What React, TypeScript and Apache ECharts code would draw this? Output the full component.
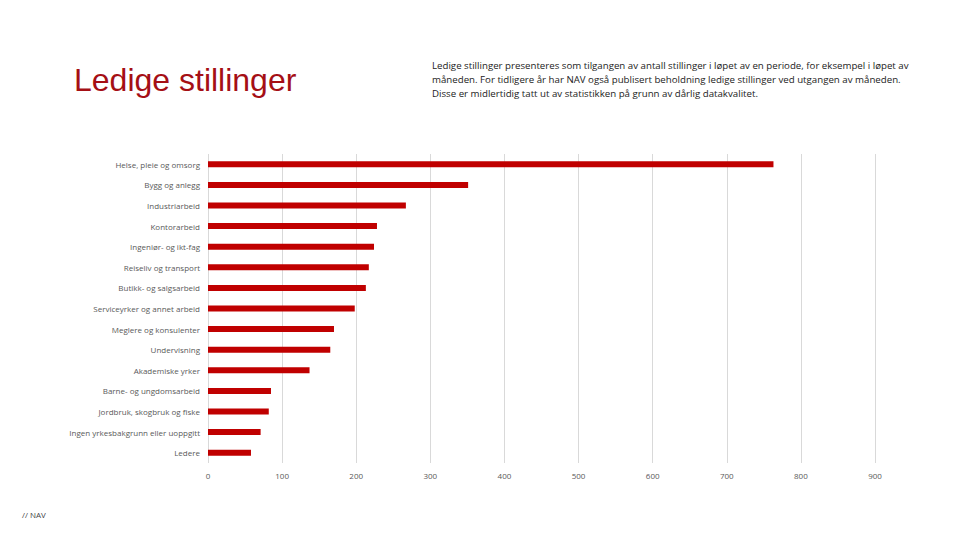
import React, { useEffect, useRef } from "react";
import * as echarts from "echarts";

const categories = [
  "Helse, pleie og omsorg",
  "Bygg og anlegg",
  "Industriarbeid",
  "Kontorarbeid",
  "Ingeniør- og ikt-fag",
  "Reiseliv og transport",
  "Butikk- og salgsarbeid",
  "Serviceyrker og annet arbeid",
  "Meglere og konsulenter",
  "Undervisning",
  "Akademiske yrker",
  "Barne- og ungdomsarbeid",
  "Jordbruk, skogbruk og fiske",
  "Ingen yrkesbakgrunn eller uoppgitt",
  "Ledere",
];
const values = [763, 351, 267, 228, 224, 217, 213, 198, 170, 165, 137, 85, 82, 71, 58];
const xTicks = [0, 100, 200, 300, 400, 500, 600, 700, 800, 900];

const titleText = "Ledige stillinger";
const descLines = [
  "Ledige stillinger presenteres som tilgangen av antall stillinger i løpet av en periode, for eksempel i løpet av",
  "måneden. For tidligere år har NAV også publisert beholdning ledige stillinger ved utgangen av måneden.",
  "Disse er midlertidig tatt ut av statistikken på grunn av dårlig datakvalitet.",
];
const footer = "// NAV";

export default function App() {
  const ref = useRef<HTMLDivElement>(null);
  useEffect(() => {
    if (!ref.current) return;
    const chart = echarts.init(ref.current, undefined, { renderer: "svg" });
    chart.setOption({
      animation: false,
      backgroundColor: "#ffffff",
      grid: { left: 208, right: 85, top: 154, bottom: 77, containLabel: false },
      xAxis: {
        type: "value",
        min: xTicks[0],
        max: xTicks[xTicks.length - 1],
        interval: 100,
        axisLine: { show: false },
        axisTick: { show: false },
        splitLine: { show: true, lineStyle: { color: "#d9d9d9", width: 1 } },
        axisLabel: { color: "#595959", fontSize: 8, fontFamily: "Open Sans", margin: 8 },
      },
      yAxis: {
        type: "category",
        data: categories,
        inverse: true,
        axisLine: { show: false },
        axisTick: { show: false },
        axisLabel: { color: "#595959", fontSize: 8, fontFamily: "Open Sans", margin: 8 },
      },
      series: [
        {
          type: "bar",
          data: values,
          barWidth: 6,
          itemStyle: { color: "#c00000" },
        },
      ],
      graphic: [
        {
          type: "text",
          left: 74,
          top: 64,
          style: { text: titleText, fill: "#a50f15", fontSize: 32, fontFamily: "Liberation Sans" },
        },
        {
          type: "text",
          left: 432,
          top: 58,
          style: {
            text: descLines.join("\n"),
            fill: "#222222",
            fontSize: 9.7,
            lineHeight: 14,
            fontFamily: "Open Sans",
          },
        },
        {
          type: "text",
          left: 22,
          top: 510,
          style: { text: footer, fill: "#444444", fontSize: 8, fontFamily: "Open Sans" },
        },
      ],
    });
    return () => chart.dispose();
  }, []);
  return <div ref={ref} style={{ width: 960, height: 540, position: "absolute", left: 0, top: 0 }} />;
}
